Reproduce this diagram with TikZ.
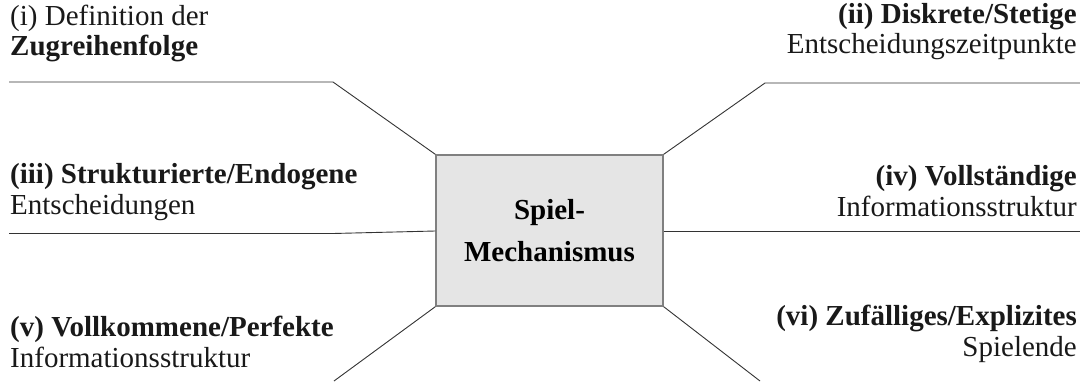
\documentclass[tikz,border=0pt]{standalone}
\usepackage{fontspec}
\setmainfont{Liberation Serif}
\begin{document}
\begin{tikzpicture}[x=1pt,y=-1pt,
  lbl/.style={inner sep=0pt,font=\fontsize{29}{30}\selectfont,text=black!90},
  conn/.style={draw=black!80,line width=0.9pt},
  hub/.style={draw=black!50,line width=1.4pt,fill=black!10,minimum width=227pt,minimum height=151pt,inner sep=0pt,align=center,font=\fontsize{29}{42}\selectfont\bfseries}]
\useasboundingbox (0,0) rectangle (1080,381);
\node[hub] (hub) at (549.5,230.5) {Spiel-\\Mechanismus};
% labels
\node[lbl,anchor=base west] (ia) at (10,25) {(i) Definition der};
\node[lbl,anchor=base west] (ib) at (10,55) {\bfseries Zugreihenfolge};
\node[lbl,anchor=base east] (iia) at (1077,23) {\bfseries(ii) Diskrete/Stetige};
\node[lbl,anchor=base east] (iib) at (1077,53) {Entscheidungszeitpunkte};
\node[lbl,anchor=base west] (iiia) at (10,183) {\bfseries(iii) Strukturierte/Endogene};
\node[lbl,anchor=base west] (iiib) at (10,214) {Entscheidungen};
\node[lbl,anchor=base east] (iva) at (1077,185) {\bfseries(iv) Vollständige};
\node[lbl,anchor=base east] (ivb) at (1077,216) {Informationsstruktur};
\node[lbl,anchor=base west] (va) at (10,336) {\bfseries(v) Vollkommene/Perfekte};
\node[lbl,anchor=base west] (vb) at (10,367) {Informationsstruktur};
\node[lbl,anchor=base east] (via) at (1077,325) {\bfseries(vi) Zufälliges/Explizites};
\node[lbl,anchor=base east] (vib) at (1077,356) {Spielende};
% connector coordinates
\coordinate (c1s) at (9,82);
\coordinate (c1k) at (333,82);
\coordinate (c2k) at (765,83);
\coordinate (c2e) at (1080,83);
\coordinate (c3s) at (9,233.5);
\coordinate (c3k) at (333,233.5);
\coordinate (c4e) at (1080,231);
\coordinate (c5e) at (334,381);
\coordinate (c6e) at (760,381);
\draw[conn] (c1s) -- (c1k) -- (hub.north west);
\draw[conn] (hub.north east) -- (c2k) -- (c2e);
\draw[conn] (c3s) -- (c3k) -- (hub.west |- 0,231);
\draw[conn] (hub.east |- 0,231) -- (c4e);
\draw[conn] (hub.south west) -- (c5e);
\draw[conn] (hub.south east) -- (c6e);
\end{tikzpicture}
\end{document}
